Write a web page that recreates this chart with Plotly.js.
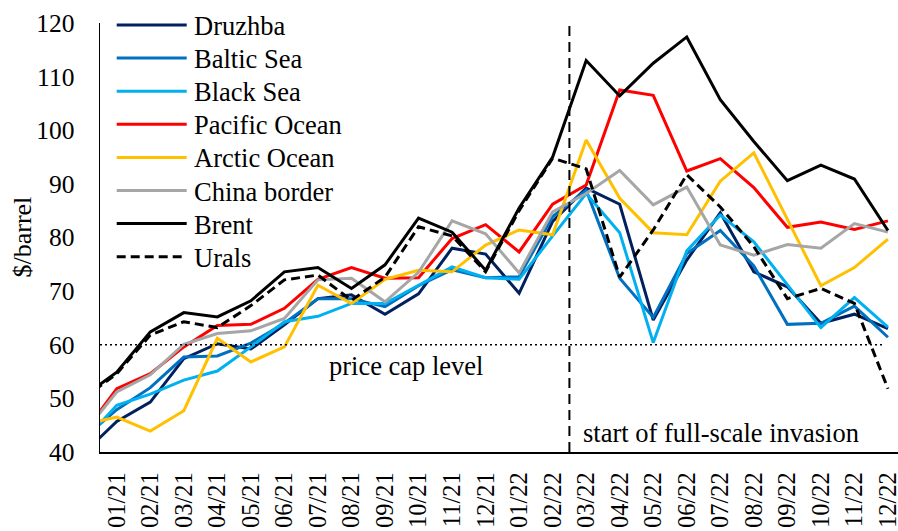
<!DOCTYPE html>
<html>
<head>
<meta charset="utf-8">
<script src="https://cdn.plot.ly/plotly-3.0.1.min.js"></script>
<style>
  html, body { margin: 0; padding: 0; background: #fff; }
  #chart { width: 898px; height: 531px; }
</style>
</head>
<body>
<div id="chart"></div>
<script>
// Months (first entry is only partly visible at the left edge of the plot)
const months = ['12/20','01/21','02/21','03/21','04/21','05/21','06/21','07/21','08/21','09/21','10/21','11/21','12/21',
                '01/22','02/22','03/22','04/22','05/22','06/22','07/22','08/22','09/22','10/22','11/22','12/22'];

const seriesNames = ['Druzhba','Baltic Sea','Black Sea','Pacific Ocean','Arctic Ocean','China border','Brent','Urals'];

const druzhba  = [39.7, 45.7, 49.3, 57.4, 60.2, 59.2, 63.7, 68.6, 69.3, 65.7, 69.5, 78.0, 76.9, 69.6, 83.0, 89.2, 86.2, 64.6, 75.8, 84.6, 73.6, 70.8, 64.0, 65.7, 63.0];
const baltic   = [42.5, 47.9, 52.0, 57.7, 57.9, 60.3, 64.0, 68.6, 68.6, 67.1, 71.0, 74.0, 72.5, 72.7, 83.9, 88.8, 72.4, 65.1, 77.0, 81.3, 74.7, 63.8, 64.0, 67.2, 61.4];
const blackSea = [41.9, 48.7, 50.8, 53.4, 55.1, 59.6, 64.3, 65.3, 67.7, 67.7, 71.1, 74.5, 72.5, 72.2, 80.3, 88.2, 80.9, 60.4, 77.5, 84.2, 79.2, 71.1, 63.2, 68.8, 63.3];
const pacific  = [43.4, 51.8, 54.6, 59.6, 63.6, 63.8, 66.8, 72.2, 74.4, 72.4, 72.5, 79.8, 82.4, 77.3, 86.2, 89.8, 107.5, 106.5, 92.4, 94.7, 89.3, 81.9, 82.9, 81.5, 83.1];
const arctic   = [45.1, 46.5, 43.9, 47.7, 61.2, 56.8, 59.6, 71.1, 67.7, 72.2, 73.9, 73.6, 78.6, 81.4, 80.5, 98.2, 87.3, 80.9, 80.5, 90.5, 95.8, 83.3, 71.0, 74.4, 79.7];
const china    = [43.4, 51.2, 54.4, 60.1, 62.1, 62.6, 64.9, 72.1, 72.4, 68.0, 73.5, 83.1, 80.7, 73.4, 84.8, 88.2, 92.5, 86.1, 89.4, 78.6, 76.7, 78.7, 78.0, 82.6, 81.0];
const brent    = [50.3, 54.9, 62.4, 66.0, 65.2, 68.2, 73.6, 74.4, 70.5, 74.9, 83.6, 81.0, 73.9, 85.5, 95.0, 113.0, 106.4, 112.5, 117.4, 105.7, 97.9, 90.6, 93.5, 90.9, 81.3];
const urals    = [50.0, 54.6, 61.8, 64.3, 63.2, 67.3, 72.1, 73.0, 68.3, 72.6, 82.0, 80.3, 73.6, 85.0, 94.8, 92.8, 72.6, 81.4, 91.7, 85.7, 78.3, 68.6, 70.5, 67.7, 51.8];

const priceCap = 60;
const invasionMonthBoundary = ['02/22', '03/22'];
const yTicks = [40, 50, 60, 70, 80, 90, 100, 110, 120];
const priceCapLabel = 'price cap level';
const invasionLabel = 'start of full-scale invasion';
const yTitle = '$/barrel';

const values = [druzhba, baltic, blackSea, pacific, arctic, china, brent, urals];
const colors = ['#002060', '#0070C0', '#00B0F0', '#FF0000', '#FFC000', '#A6A6A6', '#000000', '#000000'];
const dashes = ['solid','solid','solid','solid','solid','solid','solid','9px,5px'];

const FONT = 'Liberation Serif, Times New Roman, serif';

// plot-area geometry (pixels)
const W = 898, H = 531, ML = 100, MR = 0, MT = 23, MB = 79;
const PW = W - ML - MR, PH = H - MT - MB;
const px2paperX = p => (p - ML) / PW;
const px2paperY = p => (H - MB - p) / PH;

const traces = seriesNames.map((name, k) => ({
  type: 'scatter',
  mode: 'lines',
  name: name,
  x: months,
  y: values[k],
  line: { color: colors[k], width: 3, dash: dashes[k] },
  showlegend: false,
  hoverinfo: 'x+y+name'
}));

const idxA = months.indexOf(invasionMonthBoundary[0]);
const idxB = months.indexOf(invasionMonthBoundary[1]);
const invX = (idxA + idxB) / 2;

// legend drawn as shapes + text (long key lines like the original)
const legRow0 = 25, legRowGap = 33.1, legX0 = 116.7, legX1 = 186.7, legTextX = 192;
const legendShapes = seriesNames.map((name, k) => ({
  type: 'line', xref: 'paper', yref: 'paper',
  x0: px2paperX(legX0), x1: px2paperX(legX1),
  y0: px2paperY(legRow0 + k * legRowGap), y1: px2paperY(legRow0 + k * legRowGap),
  line: { color: colors[k], width: 3, dash: dashes[k] }
}));
const legendTexts = seriesNames.map((name, k) => ({
  text: name, xref: 'paper', yref: 'paper',
  x: px2paperX(legTextX), y: px2paperY(legRow0 + k * legRowGap + 1),
  xanchor: 'left', yanchor: 'middle', showarrow: false,
  font: { family: FONT, size: 26.5, color: '#000' }
}));

const layout = {
  width: W,
  height: H,
  margin: { l: ML, r: MR, t: MT, b: MB },
  paper_bgcolor: '#ffffff',
  plot_bgcolor: '#ffffff',
  font: { family: FONT, size: 25.5, color: '#000' },
  showlegend: false,
  xaxis: {
    type: 'category',
    range: [0.5, 24.3],
    tickmode: 'linear', tick0: 0, dtick: 1,
    tickangle: -90,
    ticks: '',
    ticklabelstandoff: 9,
    showline: true, linecolor: '#000', linewidth: 1.5,
    showgrid: false, zeroline: false,
    tickfont: { family: FONT, size: 24.5, color: '#000' },
    fixedrange: true
  },
  yaxis: {
    range: [40, 120],
    tickmode: 'array', tickvals: yTicks,
    ticks: '',
    ticklabelstandoff: 19,
    showline: true, linecolor: '#000', linewidth: 1.5,
    showgrid: false, zeroline: false,
    tickfont: { family: FONT, size: 25.5, color: '#000' },
    fixedrange: true
  },
  shapes: [
    { type: 'line', xref: 'x', yref: 'y', x0: 0.5, x1: months.length - 1 - 0.1, y0: priceCap, y1: priceCap,
      line: { color: '#000', width: 1.5, dash: '2px,3px' } },
    { type: 'line', xref: 'x', yref: 'paper', x0: invX, x1: invX, y0: 0, y1: 1,
      line: { color: '#000', width: 2, dash: '10px,6px' } }
  ].concat(legendShapes),
  annotations: [
    { text: priceCapLabel, xref: 'x', yref: 'y', x: 9.64, y: 56.1, xanchor: 'center', yanchor: 'middle',
      showarrow: false, font: { family: FONT, size: 26.5, color: '#000' } },
    { text: invasionLabel, xref: 'x', yref: 'y', x: 14.84, y: 43.6, xanchor: 'left', yanchor: 'middle',
      showarrow: false, font: { family: FONT, size: 26.5, color: '#000' } },
    { text: yTitle, xref: 'paper', yref: 'paper', x: px2paperX(22), y: 0.5, xanchor: 'center', yanchor: 'middle',
      textangle: -90, showarrow: false, font: { family: FONT, size: 26, color: '#000' } }
  ].concat(legendTexts)
};

Plotly.newPlot('chart', traces, layout, { displayModeBar: false, staticPlot: true });
</script>
</body>
</html>
